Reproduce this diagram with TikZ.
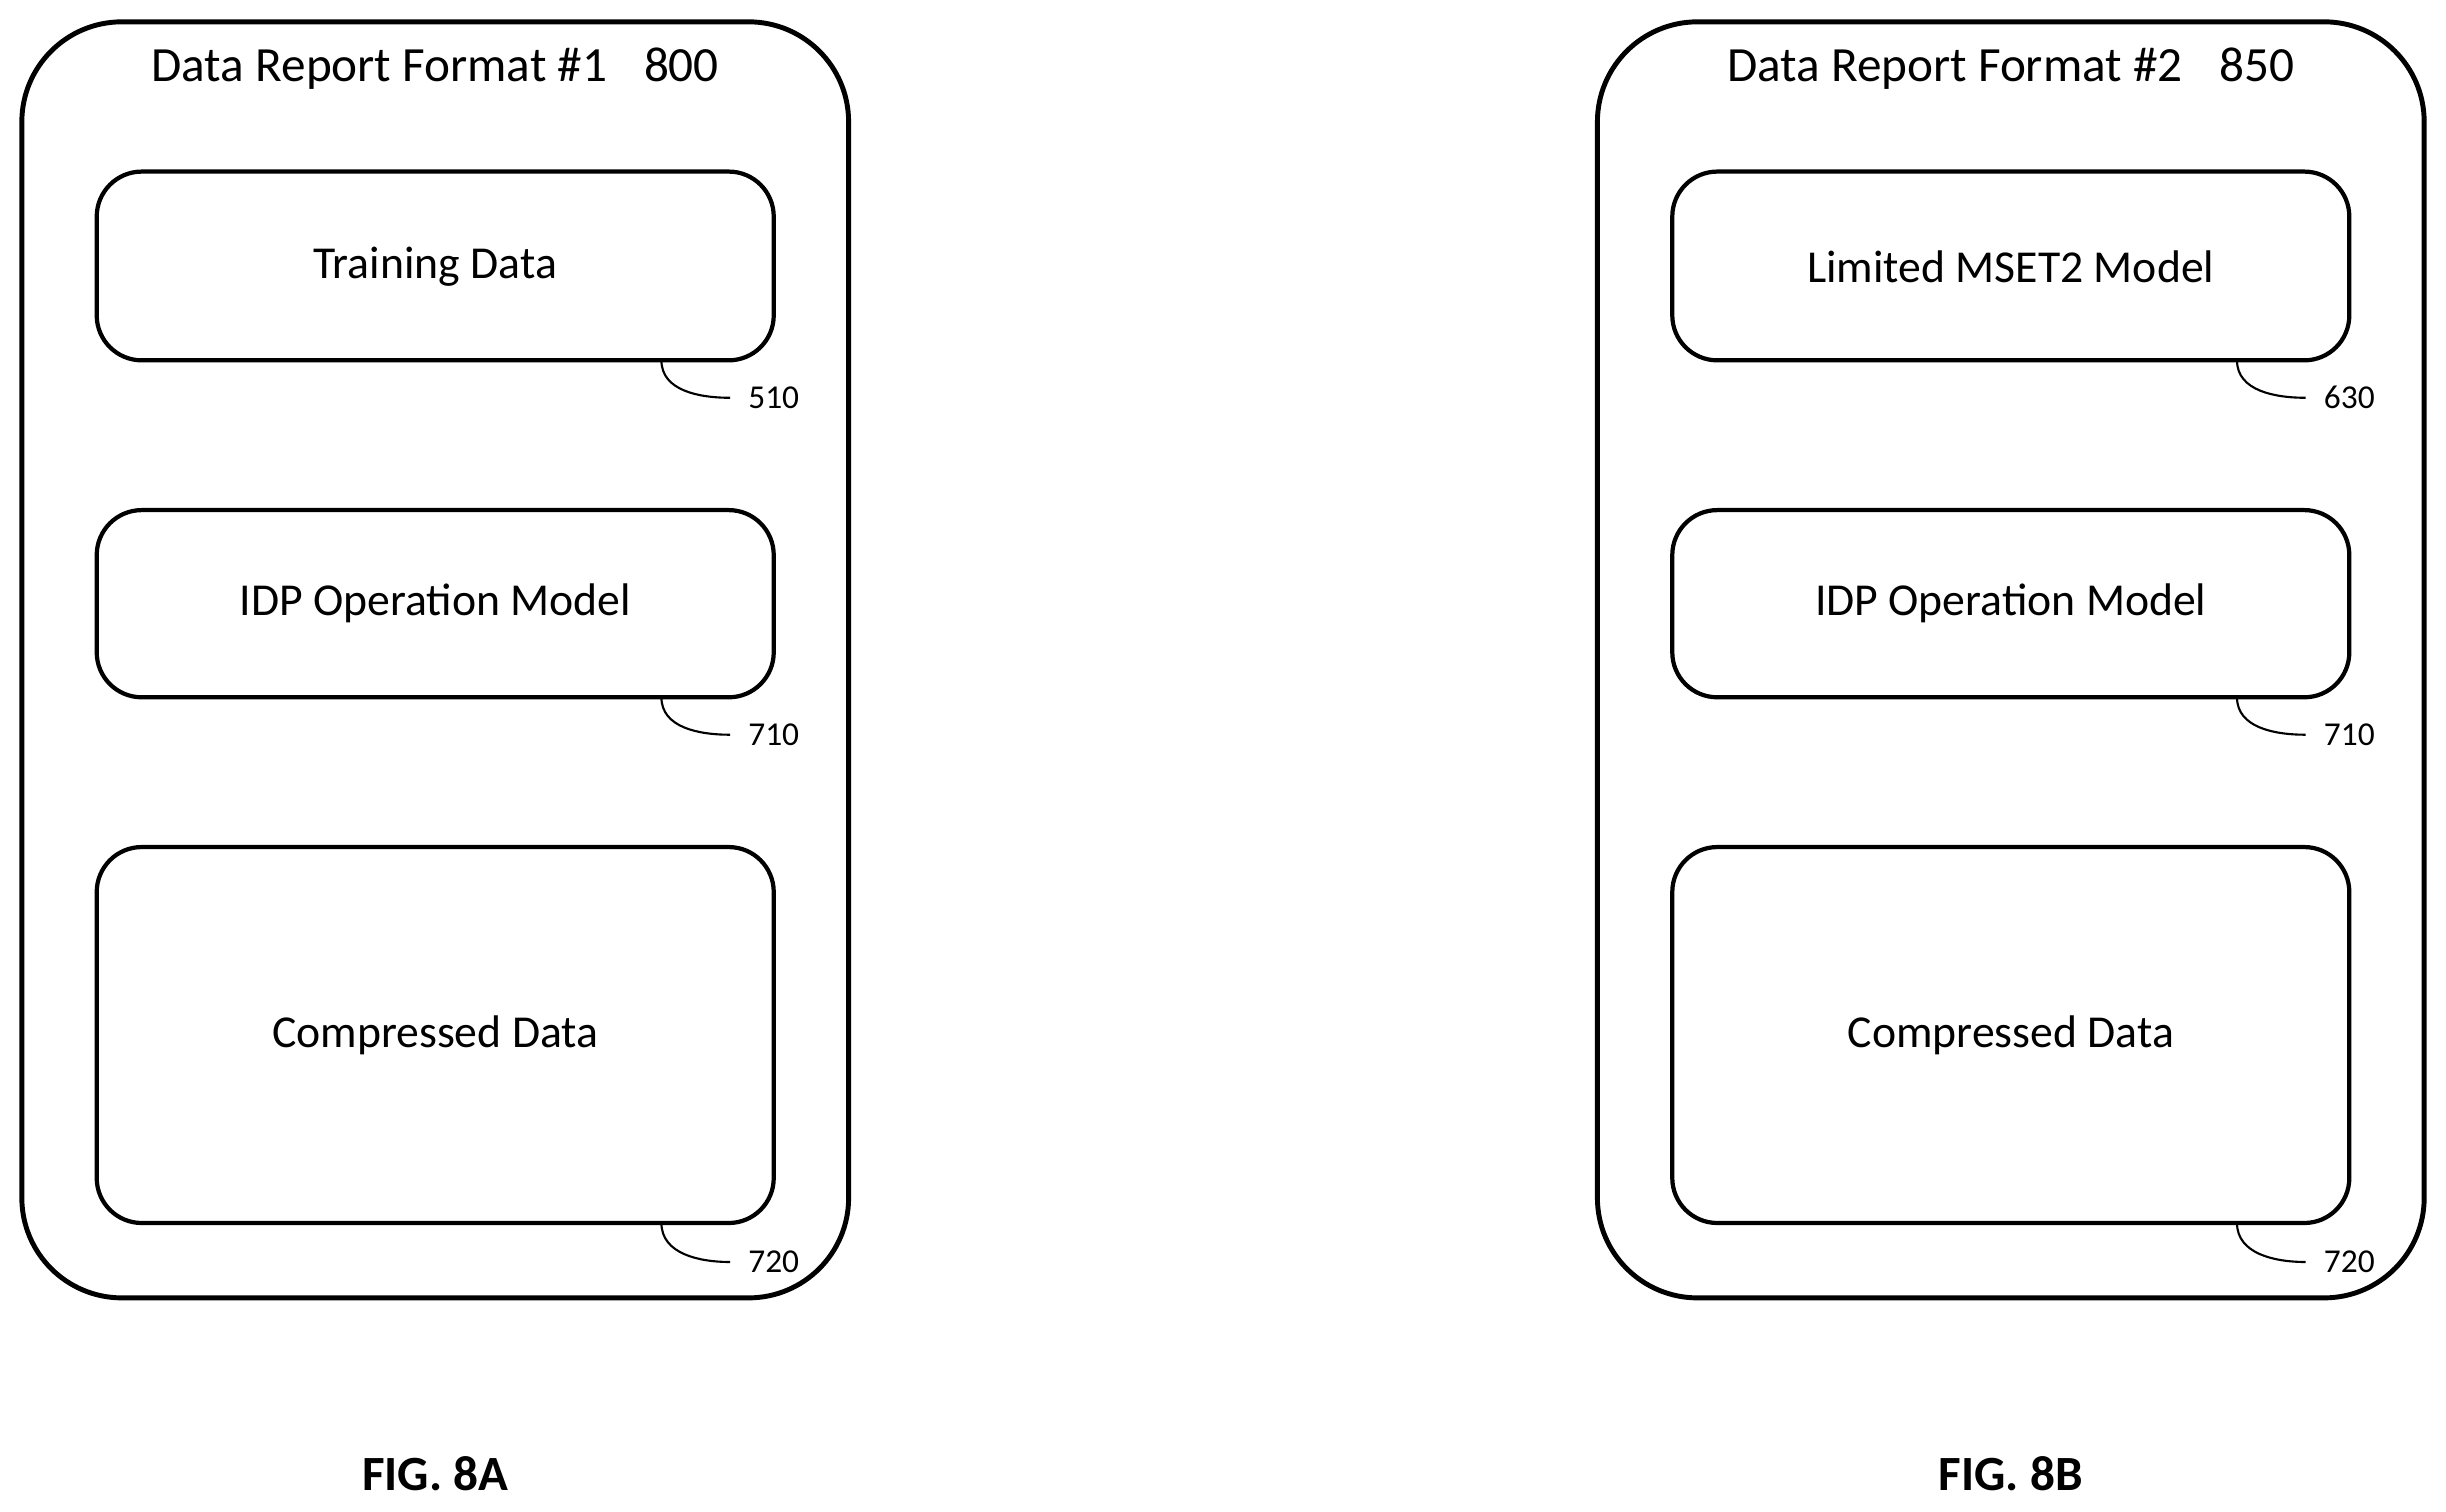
\documentclass[tikz,border=0pt]{standalone}
\usepackage{fontspec}
\setmainfont{Carlito}
\begin{document}
\begin{tikzpicture}[x=0.0156cm,y=-0.0156cm,%
% common options for the outer panels:
panel/.style = {draw, line width=1.4pt, rounded corners=1.0cm},
% common options for the inner blocks:
block/.style = {draw, line width=1.2pt, rounded corners=0.45cm, align=center,
            font=\fontsize{13}{15}\selectfont},
% reference numbers:
refnum/.style = {anchor=west, inner sep=1pt, font=\fontsize{9.5}{11}\selectfont},
leader/.style = {line width=0.6pt}]
\useasboundingbox (0,0) rectangle (1568,969);
% FIG. 8A
\draw[panel] (14,14) rectangle (544,832);
\node[font=\fontsize{14}{16}\selectfont] (TA) at (279,44) {Data Report Format \#1\hspace{0.75em}800};
\draw[block] (62,110) rectangle (496,231);
\node[font=\fontsize{13}{15}\selectfont] (A1) at (279,171) {Training Data};
\draw[block] (62,327) rectangle (496,447);
\node[font=\fontsize{13}{15}\selectfont] (A2) at (279,387) {IDP Operation Model};
\draw[block] (62,543) rectangle (496,784);
\node[font=\fontsize{13}{15}\selectfont] (A3) at (279,664) {Compressed Data};
\node[refnum] (RA1) at (477,255) {510};
\node[refnum] (RA2) at (477,471) {710};
\node[refnum] (RA3) at (477,809) {720};
\coordinate (LA1) at (424,231);
\coordinate (LA2) at (424,447);
\coordinate (LA3) at (424,784);
\draw[leader] (LA1) to[out=-90,in=180] ([xshift=-4pt]RA1.west);
\draw[leader] (LA2) to[out=-90,in=180] ([xshift=-4pt]RA2.west);
\draw[leader] (LA3) to[out=-90,in=180] ([xshift=-4pt]RA3.west);
\node[font=\bfseries\fontsize{14}{16}\selectfont] (FA) at (279,945) {FIG. 8A};
% FIG. 8B
\draw[panel] (1024,14) rectangle (1554,832);
\node[font=\fontsize{14}{16}\selectfont] (TB) at (1289,44) {Data Report Format \#2\hspace{0.75em}850};
\draw[block] (1072,110) rectangle (1506,231);
\node[font=\fontsize{13}{15}\selectfont] (B1) at (1289,171) {Limited MSET2 Model};
\draw[block] (1072,327) rectangle (1506,447);
\node[font=\fontsize{13}{15}\selectfont] (B2) at (1289,387) {IDP Operation Model};
\draw[block] (1072,543) rectangle (1506,784);
\node[font=\fontsize{13}{15}\selectfont] (B3) at (1289,664) {Compressed Data};
\node[refnum] (RB1) at (1487,255) {630};
\node[refnum] (RB2) at (1487,471) {710};
\node[refnum] (RB3) at (1487,809) {720};
\coordinate (LB1) at (1434,231);
\coordinate (LB2) at (1434,447);
\coordinate (LB3) at (1434,784);
\draw[leader] (LB1) to[out=-90,in=180] ([xshift=-4pt]RB1.west);
\draw[leader] (LB2) to[out=-90,in=180] ([xshift=-4pt]RB2.west);
\draw[leader] (LB3) to[out=-90,in=180] ([xshift=-4pt]RB3.west);
\node[font=\bfseries\fontsize{14}{16}\selectfont] (FB) at (1289,945) {FIG. 8B};
\end{tikzpicture}
\end{document}
